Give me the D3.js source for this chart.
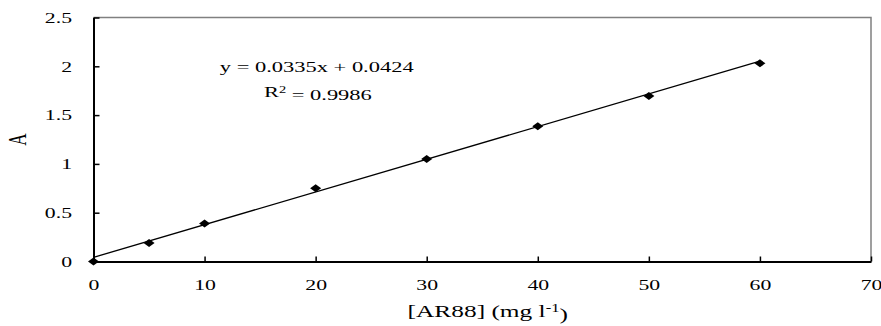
<!DOCTYPE html>
<html>
<head>
<meta charset="utf-8">
<script src="https://cdn.jsdelivr.net/npm/d3@7"></script>
<style>
  body { margin: 0; background: #fff; }
  svg text { font-family: "Liberation Serif", "Times New Roman", serif; fill: #000; }
</style>
</head>
<body>
<div id="chart"></div>
<script>
// concentration of AR88 (mg l-1) and absorbance
var concentrations = [0, 5, 10, 20, 30, 40, 50, 60];
var absorbances = [0, 0.19, 0.39, 0.75, 1.05, 1.385, 1.695, 2.03];
var xTicks = [0, 10, 20, 30, 40, 50, 60, 70];
var yTicks = [0, 0.5, 1, 1.5, 2, 2.5];
var fit = {slope: 0.0335, intercept: 0.0424, r2: "0.9986"};

var width = 881, height = 326;
var margin = {top: 17.5, right: 10, bottom: 64.5, left: 93.5};
var innerW = width - margin.left - margin.right;
var innerH = height - margin.top - margin.bottom;
var stretch = 1.45;   // the text in the original looks wide, like a stretched image

var svg = d3.select("#chart").append("svg")
    .attr("width", width)
    .attr("height", height);

var x = d3.scaleLinear().domain([0, 70]).range([0, 777.5]);
var y = d3.scaleLinear().domain([0, 2.5]).range([innerH, 0]);

var g = svg.append("g")
    .attr("transform", "translate(" + margin.left + "," + margin.top + ")");

// plot area border (grey top and right)
g.append("path")
    .attr("d", "M0,0H" + x(70) + "V" + y(0))
    .attr("fill", "none")
    .attr("stroke", "#808080")
    .attr("stroke-width", 1.5);

// axes with inward ticks
var xAxis = d3.axisBottom(x).tickValues(xTicks).tickSizeInner(-5).tickSizeOuter(0).tickPadding(18);
var yAxis = d3.axisLeft(y).tickValues(yTicks).tickSizeInner(-6).tickSizeOuter(0)
    .tickFormat(function(d) { return d; });

var gx = g.append("g").attr("transform", "translate(0," + innerH + ")").call(xAxis);
var gy = g.append("g").call(yAxis);

[gx, gy].forEach(function(a) {
    a.select(".domain").attr("stroke", "#000").attr("stroke-width", 2);
    a.selectAll(".tick line").attr("stroke", "#000").attr("stroke-width", 1.5);
    a.selectAll("text")
        .style("font-family", "Liberation Serif, serif")
        .style("font-size", "15px")
        .attr("transform", "scale(" + stretch + ",1)");
});
gy.selectAll("text").attr("x", -21.5 / stretch);

// trend line
var x0 = concentrations[0], x1 = concentrations[concentrations.length - 1];
g.append("line")
    .attr("x1", x(x0)).attr("y1", y(fit.slope * x0 + fit.intercept))
    .attr("x2", x(x1)).attr("y2", y(fit.slope * x1 + fit.intercept))
    .attr("stroke", "#000")
    .attr("stroke-width", 1.3);

// diamond markers
g.selectAll(".pt")
    .data(concentrations)
    .enter().append("path")
    .attr("class", "pt")
    .attr("transform", function(d, i) { return "translate(" + x(d) + "," + y(absorbances[i]) + ")"; })
    .attr("d", "M-5.5,0L0,-4L5.5,0L0,4Z")
    .attr("fill", "#000");

// equation text
g.append("text")
    .attr("transform", "translate(" + x(20.1) + "," + y(2.0) + ") scale(" + stretch + ",1)")
    .attr("dy", "0.35em")
    .attr("text-anchor", "middle")
    .style("font-size", "15.5px")
    .text("y = " + fit.slope + "x + " + fit.intercept);

var r2 = g.append("text")
    .attr("transform", "translate(" + x(20.2) + "," + y(1.74) + ") scale(" + stretch + ",1)")
    .attr("dy", "0.35em")
    .attr("text-anchor", "middle")
    .style("font-size", "15.5px");
r2.append("tspan").text("R");
r2.append("tspan").attr("dy", "-0.45em").style("font-size", "10px").text("2");
r2.append("tspan").attr("dy", "0.45em").text(" = " + fit.r2);

// axis titles
svg.append("text")
    .attr("transform", "translate(17," + (margin.top + y(1.25)) + ") scale(" + stretch + ",1) rotate(-90)")
    .attr("text-anchor", "middle")
    .attr("dy", "0.35em")
    .style("font-size", "17px")
    .text("A");

var xt = svg.append("text")
    .attr("transform", "translate(" + (margin.left + x(35.5)) + ",317) scale(" + stretch + ",1)")
    .attr("text-anchor", "middle")
    .style("font-size", "17.5px");
xt.append("tspan").text("[AR88] (mg l");
xt.append("tspan").attr("dy", "-0.45em").style("font-size", "11.5px").text("-1");
xt.append("tspan").attr("dy", "0.45em").text(")");
</script>
</body>
</html>
